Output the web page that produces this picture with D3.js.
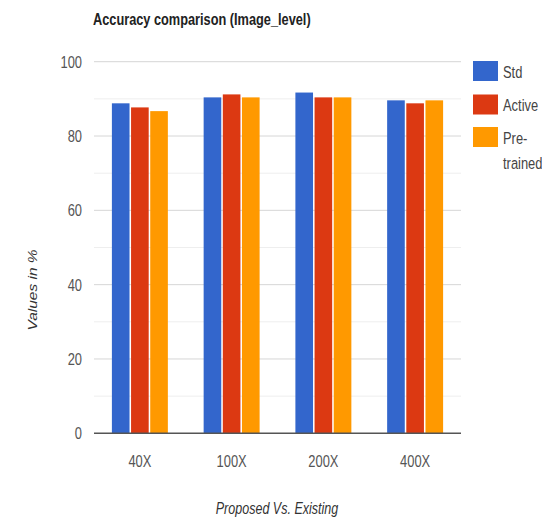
<!DOCTYPE html>
<html>
<head>
<meta charset="utf-8">
<script src="https://cdn.jsdelivr.net/npm/d3@7"></script>
<style>
  html, body { margin: 0; padding: 0; background: #fff; }
  svg { display: block; font-family: "Liberation Sans", Arial, sans-serif; }
</style>
</head>
<body>
<svg id="chart" width="542" height="520"></svg>
<script>
// Magnification levels on the x axis
const categories = ["40X", "100X", "200X", "400X"];
// Series names as shown in the legend
const seriesNames = ["Std", "Active", "Pre-trained"];
const legendLines = [["Std"], ["Active"], ["Pre-", "trained"]];
// Accuracy values (%) per series
const stdValues = [88.8, 90.4, 91.7, 89.6];
const activeValues = [87.7, 91.2, 90.4, 88.8];
const pretrainedValues = [86.7, 90.4, 90.4, 89.6];
const yTicks = [0, 20, 40, 60, 80, 100];
const yMinorTicks = [10, 30, 50, 70, 90];
const colors = ["#3366cc", "#dc3912", "#ff9900"];

const seriesValues = [stdValues, activeValues, pretrainedValues];
const rows = categories.map((c, i) => ({
  cat: c,
  vals: seriesNames.map((s, j) => ({ key: s, idx: j, value: seriesValues[j][i] }))
}));

const svg = d3.select("#chart");
const plotLeft = 94, plotRight = 461, plotTop = 61.7, plotBottom = 433.3;
const SX = 0.76; // horizontal squeeze used for all text

const x0 = d3.scaleBand().domain(categories).range([plotLeft, plotRight]).paddingInner(0.39).paddingOuter(0.195);
const x1 = d3.scaleBand().domain(seriesNames).range([0, x0.bandwidth()]).paddingInner(0.08);
const y = d3.scaleLinear().domain([0, 100]).range([plotBottom, plotTop]);

function sqText(g, x, yPos, str, opts) {
  const t = g.append("text")
    .attr("transform", `translate(${x},${yPos}) scale(${opts.sx || SX},1)`)
    .attr("font-size", opts.size)
    .attr("fill", opts.fill || "#444")
    .attr("text-anchor", opts.anchor || "start")
    .text(str);
  if (opts.weight) t.attr("font-weight", opts.weight);
  if (opts.style) t.attr("font-style", opts.style);
  return t;
}

// Gridlines
svg.append("g").selectAll("line").data(yMinorTicks).join("line")
  .attr("x1", plotLeft).attr("x2", plotRight)
  .attr("y1", d => y(d)).attr("y2", d => y(d))
  .attr("stroke", "#eeeeee").attr("stroke-width", 1);
svg.append("g").selectAll("line").data(yTicks.filter(d => d > 0)).join("line")
  .attr("x1", plotLeft).attr("x2", plotRight)
  .attr("y1", d => y(d)).attr("y2", d => y(d))
  .attr("stroke", "#d6d6d6").attr("stroke-width", 1);

// Y tick labels
const yAxisG = svg.append("g");
yTicks.forEach(t => sqText(yAxisG, 82, y(t) + 6, String(t), { size: 17, anchor: "end", fill: "#555" }));

// Bars
svg.append("g").selectAll("g").data(rows).join("g")
  .attr("transform", d => `translate(${x0(d.cat)},0)`)
  .selectAll("rect").data(d => d.vals).join("rect")
  .attr("x", d => x1(d.key))
  .attr("width", x1.bandwidth())
  .attr("y", d => y(d.value))
  .attr("height", d => y(0) - y(d.value))
  .attr("fill", d => colors[d.idx]);

// Baseline
svg.append("line")
  .attr("x1", plotLeft).attr("x2", plotRight)
  .attr("y1", y(0)).attr("y2", y(0))
  .attr("stroke", "#555").attr("stroke-width", 1.5);

// X tick labels
const xAxisG = svg.append("g");
categories.forEach(c => sqText(xAxisG, x0(c) + x0.bandwidth() / 2, 466.5, c, { size: 17, anchor: "middle", fill: "#555" }));

// Title
sqText(svg, 93, 25, "Accuracy comparison (Image_level)", { size: 16.8, weight: "bold", fill: "#222" });

// Axis titles
sqText(svg, 277, 514, "Proposed Vs. Existing", { size: 16.5, anchor: "middle", style: "italic", fill: "#333" });
svg.append("text")
  .attr("transform", "translate(37,290) rotate(-90) scale(1,0.78)")
  .attr("font-size", 15.5)
  .attr("font-style", "italic")
  .attr("fill", "#333")
  .attr("text-anchor", "middle")
  .text("Values in %");

// Legend
const legend = svg.append("g");
const legendTops = [61, 94.5, 127];
seriesNames.forEach((s, i) => {
  legend.append("rect")
    .attr("x", 473).attr("y", legendTops[i])
    .attr("width", 25).attr("height", 20)
    .attr("fill", colors[i]);
  legendLines[i].forEach((ln, k) => {
    sqText(legend, 503, legendTops[i] + 16.5 + k * 25, ln, { size: 17, fill: "#444" });
  });
});
</script>
</body>
</html>
